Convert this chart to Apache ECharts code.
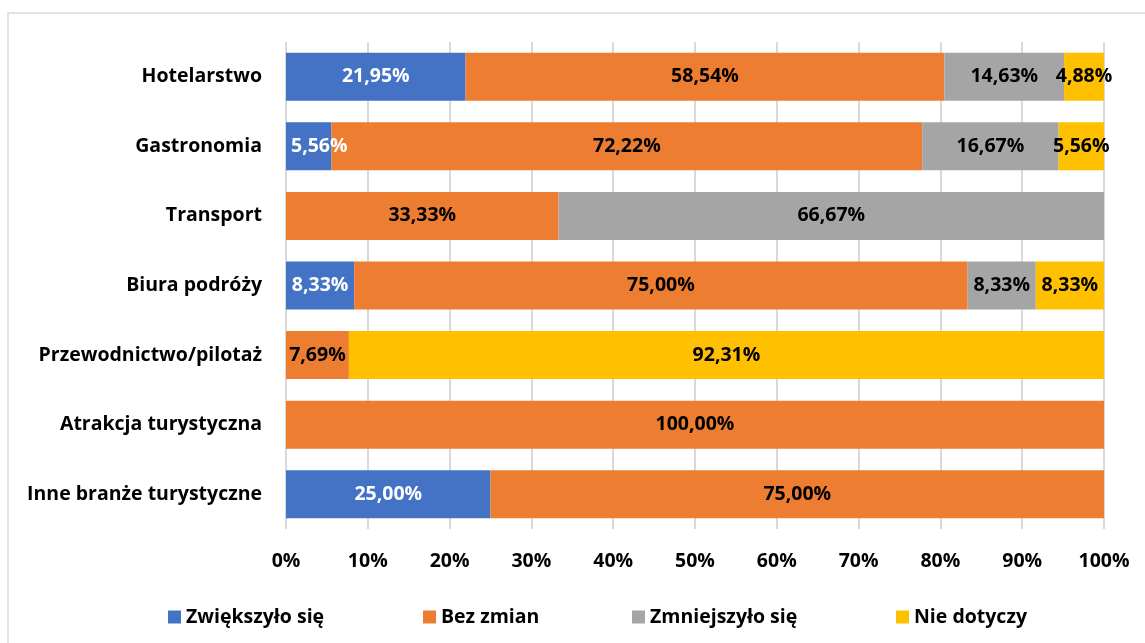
<!DOCTYPE html>
<html>
<head>
<meta charset="utf-8">
<script src="https://cdn.jsdelivr.net/npm/echarts@6/dist/echarts.min.js"></script>
<style>
  html, body { margin: 0; padding: 0; background: #fff; }
  #chart { width: 1145px; height: 643px; }
</style>
</head>
<body>
<div id="chart"></div>
<script>
// Industry categories, top to bottom
const categories = [
  'Hotelarstwo',
  'Gastronomia',
  'Transport',
  'Biura podróży',
  'Przewodnictwo/pilotaż',
  'Atrakcja turystyczna',
  'Inne branże turystyczne'
];

// Share of answers per category (percent)
const zwiekszylo = [21.95, 5.56, 0, 8.33, 0, 0, 25.00];
const bezZmian = [58.54, 72.22, 33.33, 75.00, 7.69, 100.00, 75.00];
const zmniejszylo = [14.63, 16.67, 66.67, 8.33, 0, 0, 0];
const nieDotyczy = [4.88, 5.56, 0, 8.33, 92.31, 0, 0];

const seriesNames = ['Zwiększyło się', 'Bez zmian', 'Zmniejszyło się', 'Nie dotyczy'];
const seriesData = [zwiekszylo, bezZmian, zmniejszylo, nieDotyczy];
const colors = ['#4472C4', '#ED7D31', '#A5A5A5', '#FFC000'];
const labelColors = ['#ffffff', '#000000', '#000000', '#000000'];

const FONT = '"Open Sans"';
const FS = 19.5;

const fmtPct = v => v.toFixed(2).replace('.', ',') + '%';

const chart = echarts.init(document.getElementById('chart'), null, { renderer: 'canvas' });

const legendLeft = [163, 418, 627, 891];

// A label wider than the first segment of a bar would spill left past the
// axis, so it is pinned to the segment's left edge instead.
const itemsFor = (values, seriesIndex) => values.map(v => {
  if (seriesIndex === 0 && v > 0 && v < 7) {
    return { value: v, label: { position: 'insideLeft', distance: 5 } };
  }
  return v;
});

chart.setOption({
  animation: false,
  backgroundColor: '#ffffff',
  graphic: [{
    type: 'rect',
    shape: { x: 8, y: 13, width: 1150, height: 650 },
    style: { fill: 'none', stroke: '#d9d9d9', lineWidth: 1.5 },
    z: -1
  }],
  grid: { left: 286, right: 41, top: 42, bottom: 114, containLabel: false },
  legend: seriesNames.map((n, i) => ({
    data: [n],
    left: legendLeft[i],
    top: 602,
    icon: 'rect',
    itemWidth: 13,
    itemHeight: 13,
    itemGap: 6,
    textStyle: { fontFamily: FONT, fontWeight: 'bold', fontSize: FS, color: '#000' },
    selectedMode: false
  })),
  xAxis: {
    type: 'value',
    min: 0,
    max: 100,
    interval: 10,
    axisLine: { show: false },
    axisTick: { show: false },
    splitLine: { show: true, lineStyle: { color: '#d9d9d9', width: 2 } },
    axisLabel: {
      formatter: v => v + '%',
      fontFamily: FONT, fontWeight: 'bold', fontSize: FS, color: '#000',
      margin: 22
    }
  },
  yAxis: {
    type: 'category',
    data: categories,
    inverse: true,
    axisLine: { show: false },
    axisTick: { show: false },
    splitLine: { show: false },
    axisLabel: {
      fontFamily: FONT, fontWeight: 'bold', fontSize: FS, color: '#000',
      margin: 24
    }
  },
  series: seriesNames.map((n, i) => ({
    name: n,
    type: 'bar',
    stack: 'total',
    barWidth: 48,
    itemStyle: { color: colors[i] },
    label: {
      show: true,
      position: 'inside',
      formatter: p => (p.value > 0 ? fmtPct(p.value) : ''),
      fontFamily: FONT, fontWeight: 'bold', fontSize: FS,
      color: labelColors[i]
    },
    data: itemsFor(seriesData[i], i)
  }))
});
</script>
</body>
</html>
